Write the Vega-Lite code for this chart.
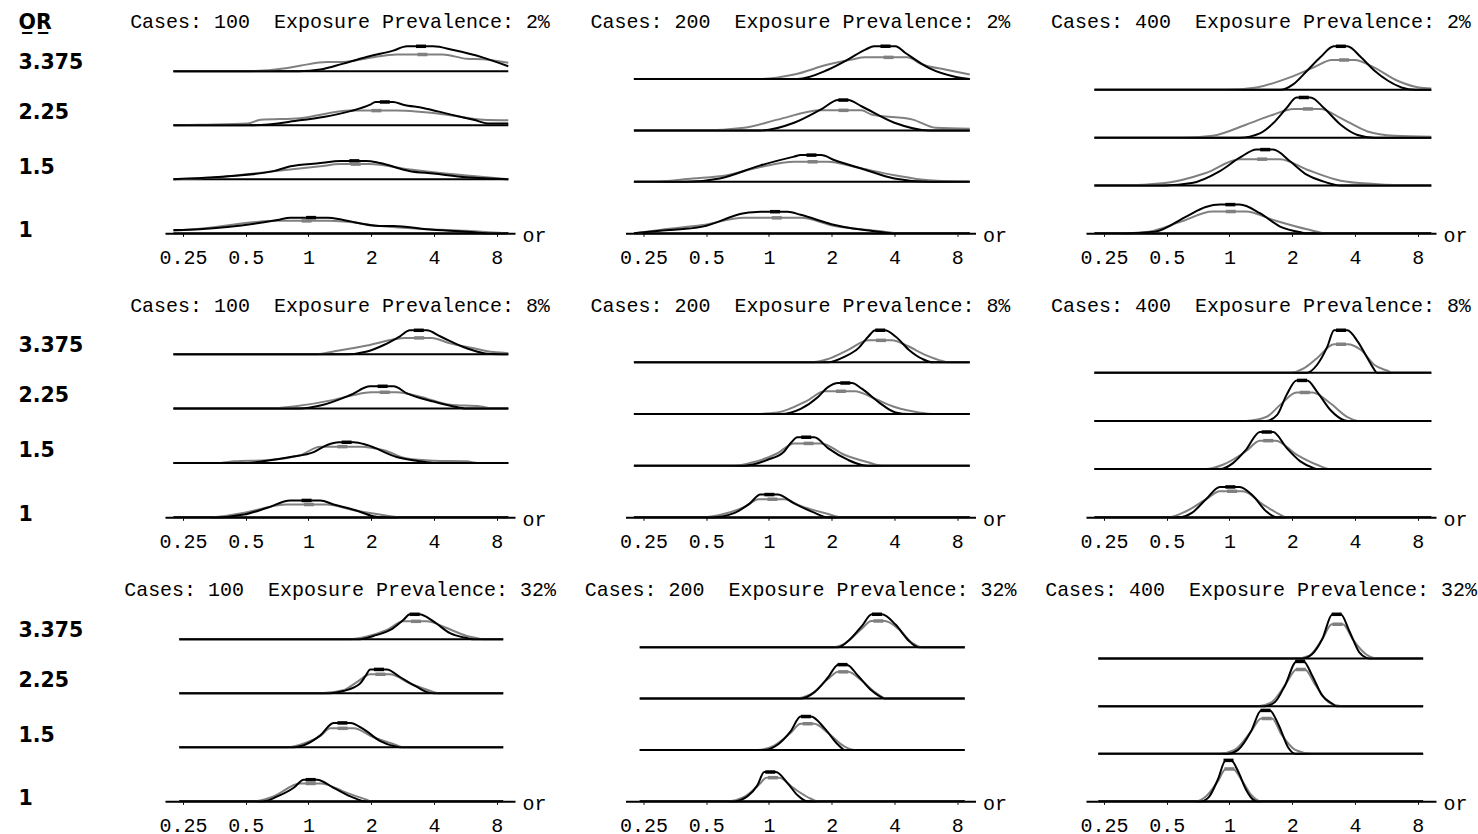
{
"$schema": "https://vega.github.io/schema/vega-lite/v6.json",
"background": "white",
"padding": {"left": 18, "top": 12.3, "right": 0, "bottom": 0},
"data": {"values": [
{"p":1,"k":3,"s":"b","x":0.225,"d":0},{"p":1,"k":3,"s":"b","x":0.9,"d":0},{"p":1,"k":3,"s":"b","x":1.14,"d":0.03},{"p":1,"k":3,"s":"b","x":1.47,"d":0.14},{"p":1,"k":3,"s":"b","x":1.98,"d":0.28},{"p":1,"k":3,"s":"b","x":2.55,"d":0.38},{"p":1,"k":3,"s":"b","x":2.97,"d":0.46},{"p":1,"k":3,"s":"b","x":3.97,"d":0.46},{"p":1,"k":3,"s":"b","x":4.96,"d":0.39},{"p":1,"k":3,"s":"b","x":6.9,"d":0.25},{"p":1,"k":3,"s":"b","x":9.1,"d":0.09},
{"p":1,"k":3,"s":"g","x":0.225,"d":0},{"p":1,"k":3,"s":"g","x":0.49,"d":0},{"p":1,"k":3,"s":"g","x":0.76,"d":0.05},{"p":1,"k":3,"s":"g","x":0.91,"d":0.1},{"p":1,"k":3,"s":"g","x":1.23,"d":0.17},{"p":1,"k":3,"s":"g","x":1.47,"d":0.17},{"p":1,"k":3,"s":"g","x":1.98,"d":0.25},{"p":1,"k":3,"s":"g","x":2.65,"d":0.31},{"p":1,"k":3,"s":"g","x":4.4,"d":0.31},{"p":1,"k":3,"s":"g","x":5.75,"d":0.23},{"p":1,"k":3,"s":"g","x":6.9,"d":0.22},{"p":1,"k":3,"s":"g","x":9.1,"d":0.155},
{"p":1,"k":2,"s":"b","x":0.225,"d":0},{"p":1,"k":2,"s":"b","x":0.55,"d":0},{"p":1,"k":2,"s":"b","x":0.91,"d":0.09},{"p":1,"k":2,"s":"b","x":1.18,"d":0.15},{"p":1,"k":2,"s":"b","x":1.59,"d":0.26},{"p":1,"k":2,"s":"b","x":1.98,"d":0.38},{"p":1,"k":2,"s":"b","x":2.1,"d":0.43},{"p":1,"k":2,"s":"b","x":2.55,"d":0.43},{"p":1,"k":2,"s":"b","x":2.85,"d":0.38},{"p":1,"k":2,"s":"b","x":3.55,"d":0.32},{"p":1,"k":2,"s":"b","x":4.78,"d":0.2},{"p":1,"k":2,"s":"b","x":6.2,"d":0.1},{"p":1,"k":2,"s":"b","x":7.4,"d":0.03},{"p":1,"k":2,"s":"b","x":9.1,"d":0.03},
{"p":1,"k":2,"s":"g","x":0.225,"d":0},{"p":1,"k":2,"s":"g","x":0.3,"d":0.01},{"p":1,"k":2,"s":"g","x":0.51,"d":0.03},{"p":1,"k":2,"s":"g","x":0.59,"d":0.1},{"p":1,"k":2,"s":"g","x":0.91,"d":0.13},{"p":1,"k":2,"s":"g","x":1.59,"d":0.27},{"p":1,"k":2,"s":"g","x":2.65,"d":0.27},{"p":1,"k":2,"s":"g","x":4.78,"d":0.185},{"p":1,"k":2,"s":"g","x":6.9,"d":0.1},{"p":1,"k":2,"s":"g","x":9.1,"d":0.09},
{"p":1,"k":1,"s":"b","x":0.225,"d":0},{"p":1,"k":1,"s":"b","x":0.41,"d":0.055},{"p":1,"k":1,"s":"b","x":0.68,"d":0.15},{"p":1,"k":1,"s":"b","x":0.82,"d":0.24},{"p":1,"k":1,"s":"b","x":1.14,"d":0.3},{"p":1,"k":1,"s":"b","x":1.42,"d":0.34},{"p":1,"k":1,"s":"b","x":1.9,"d":0.34},{"p":1,"k":1,"s":"b","x":2.2,"d":0.3},{"p":1,"k":1,"s":"b","x":3.08,"d":0.15},{"p":1,"k":1,"s":"b","x":3.98,"d":0.105},{"p":1,"k":1,"s":"b","x":5.75,"d":0.037},{"p":1,"k":1,"s":"b","x":9.1,"d":0},
{"p":1,"k":1,"s":"g","x":0.225,"d":0},{"p":1,"k":1,"s":"g","x":0.33,"d":0.03},{"p":1,"k":1,"s":"g","x":0.45,"d":0.07},{"p":1,"k":1,"s":"g","x":0.68,"d":0.15},{"p":1,"k":1,"s":"g","x":1.14,"d":0.24},{"p":1,"k":1,"s":"g","x":1.42,"d":0.28},{"p":1,"k":1,"s":"g","x":1.95,"d":0.28},{"p":1,"k":1,"s":"g","x":3.08,"d":0.18},{"p":1,"k":1,"s":"g","x":3.98,"d":0.13},{"p":1,"k":1,"s":"g","x":5.75,"d":0.07},{"p":1,"k":1,"s":"g","x":7.6,"d":0.03},{"p":1,"k":1,"s":"g","x":9.1,"d":0},
{"p":1,"k":0,"s":"b","x":0.225,"d":0.06},{"p":1,"k":0,"s":"b","x":0.3,"d":0.075},{"p":1,"k":0,"s":"b","x":0.71,"d":0.245},{"p":1,"k":0,"s":"b","x":0.82,"d":0.29},{"p":1,"k":0,"s":"b","x":1.24,"d":0.29},{"p":1,"k":0,"s":"b","x":1.47,"d":0.245},{"p":1,"k":0,"s":"b","x":2.2,"d":0.135},{"p":1,"k":0,"s":"b","x":2.56,"d":0.135},{"p":1,"k":0,"s":"b","x":3.7,"d":0.075},{"p":1,"k":0,"s":"b","x":5.75,"d":0.03},{"p":1,"k":0,"s":"b","x":7.3,"d":0},{"p":1,"k":0,"s":"b","x":9.1,"d":0},
{"p":1,"k":0,"s":"g","x":0.225,"d":0.045},{"p":1,"k":0,"s":"g","x":0.3,"d":0.085},{"p":1,"k":0,"s":"g","x":0.71,"d":0.23},{"p":1,"k":0,"s":"g","x":1.25,"d":0.23},{"p":1,"k":0,"s":"g","x":1.47,"d":0.22},{"p":1,"k":0,"s":"g","x":2.2,"d":0.135},{"p":1,"k":0,"s":"g","x":3.7,"d":0.075},{"p":1,"k":0,"s":"g","x":5.75,"d":0.045},{"p":1,"k":0,"s":"g","x":7.3,"d":0.02},{"p":1,"k":0,"s":"g","x":9.1,"d":0},

{"p":2,"k":3,"s":"b","x":0.225,"d":0},{"p":2,"k":3,"s":"b","x":1.37,"d":0},{"p":2,"k":3,"s":"b","x":1.92,"d":0.18},{"p":2,"k":3,"s":"b","x":2.4,"d":0.38},{"p":2,"k":3,"s":"b","x":2.9,"d":0.57},{"p":2,"k":3,"s":"b","x":3.2,"d":0.635},{"p":2,"k":3,"s":"b","x":4.05,"d":0.635},{"p":2,"k":3,"s":"b","x":4.5,"d":0.51},{"p":2,"k":3,"s":"b","x":5.87,"d":0.21},{"p":2,"k":3,"s":"b","x":7.9,"d":0.04},{"p":2,"k":3,"s":"b","x":9.2,"d":0},
{"p":2,"k":3,"s":"g","x":0.225,"d":0},{"p":2,"k":3,"s":"g","x":0.91,"d":0},{"p":2,"k":3,"s":"g","x":1.32,"d":0.085},{"p":2,"k":3,"s":"g","x":1.92,"d":0.28},{"p":2,"k":3,"s":"g","x":2.5,"d":0.38},{"p":2,"k":3,"s":"g","x":2.9,"d":0.42},{"p":2,"k":3,"s":"g","x":4.6,"d":0.42},{"p":2,"k":3,"s":"g","x":5.45,"d":0.28},{"p":2,"k":3,"s":"g","x":7.1,"d":0.18},{"p":2,"k":3,"s":"g","x":9.2,"d":0.085},
{"p":2,"k":2,"s":"b","x":0.225,"d":0},{"p":2,"k":2,"s":"b","x":0.91,"d":0},{"p":2,"k":2,"s":"b","x":1.32,"d":0.15},{"p":2,"k":2,"s":"b","x":1.78,"d":0.41},{"p":2,"k":2,"s":"b","x":2.15,"d":0.59},{"p":2,"k":2,"s":"b","x":2.4,"d":0.59},{"p":2,"k":2,"s":"b","x":2.78,"d":0.47},{"p":2,"k":2,"s":"b","x":4.0,"d":0.15},{"p":2,"k":2,"s":"b","x":5.87,"d":0},{"p":2,"k":2,"s":"b","x":9.2,"d":0},
{"p":2,"k":2,"s":"g","x":0.225,"d":0},{"p":2,"k":2,"s":"g","x":0.48,"d":0},{"p":2,"k":2,"s":"g","x":0.76,"d":0.05},{"p":2,"k":2,"s":"g","x":1.1,"d":0.21},{"p":2,"k":2,"s":"g","x":1.78,"d":0.39},{"p":2,"k":2,"s":"g","x":2.78,"d":0.39},{"p":2,"k":2,"s":"g","x":3.1,"d":0.31},{"p":2,"k":2,"s":"g","x":4.9,"d":0.21},{"p":2,"k":2,"s":"g","x":6.3,"d":0.05},{"p":2,"k":2,"s":"g","x":9.2,"d":0.03},
{"p":2,"k":1,"s":"b","x":0.225,"d":0},{"p":2,"k":1,"s":"b","x":0.4,"d":0},{"p":2,"k":1,"s":"b","x":0.58,"d":0.065},{"p":2,"k":1,"s":"b","x":0.91,"d":0.32},{"p":2,"k":1,"s":"b","x":1.32,"d":0.49},{"p":2,"k":1,"s":"b","x":1.42,"d":0.52},{"p":2,"k":1,"s":"b","x":1.78,"d":0.52},{"p":2,"k":1,"s":"b","x":2.07,"d":0.42},{"p":2,"k":1,"s":"b","x":2.78,"d":0.26},{"p":2,"k":1,"s":"b","x":4.0,"d":0.065},{"p":2,"k":1,"s":"b","x":5.87,"d":0},{"p":2,"k":1,"s":"b","x":9.2,"d":0},
{"p":2,"k":1,"s":"g","x":0.225,"d":0},{"p":2,"k":1,"s":"g","x":0.27,"d":0},{"p":2,"k":1,"s":"g","x":0.43,"d":0.065},{"p":2,"k":1,"s":"g","x":0.63,"d":0.13},{"p":2,"k":1,"s":"g","x":0.91,"d":0.29},{"p":2,"k":1,"s":"g","x":1.32,"d":0.39},{"p":2,"k":1,"s":"g","x":1.92,"d":0.39},{"p":2,"k":1,"s":"g","x":2.58,"d":0.29},{"p":2,"k":1,"s":"g","x":4.0,"d":0.13},{"p":2,"k":1,"s":"g","x":5.87,"d":0.03},{"p":2,"k":1,"s":"g","x":9.2,"d":0},
{"p":2,"k":0,"s":"b","x":0.225,"d":0},{"p":2,"k":0,"s":"b","x":0.3,"d":0.05},{"p":2,"k":0,"s":"b","x":0.48,"d":0.13},{"p":2,"k":0,"s":"b","x":0.76,"d":0.39},{"p":2,"k":0,"s":"b","x":0.91,"d":0.42},{"p":2,"k":0,"s":"b","x":1.23,"d":0.42},{"p":2,"k":0,"s":"b","x":1.42,"d":0.36},{"p":2,"k":0,"s":"b","x":2.07,"d":0.16},{"p":2,"k":0,"s":"b","x":3.35,"d":0.03},{"p":2,"k":0,"s":"b","x":4.0,"d":0},{"p":2,"k":0,"s":"b","x":9.2,"d":0},
{"p":2,"k":0,"s":"g","x":0.225,"d":0},{"p":2,"k":0,"s":"g","x":0.3,"d":0.065},{"p":2,"k":0,"s":"g","x":0.48,"d":0.16},{"p":2,"k":0,"s":"g","x":0.76,"d":0.3},{"p":2,"k":0,"s":"g","x":1.42,"d":0.3},{"p":2,"k":0,"s":"g","x":2.07,"d":0.14},{"p":2,"k":0,"s":"g","x":3.35,"d":0.045},{"p":2,"k":0,"s":"g","x":4.3,"d":0},{"p":2,"k":0,"s":"g","x":9.2,"d":0},

{"p":3,"k":3,"s":"b","x":0.225,"d":0},{"p":3,"k":3,"s":"b","x":1.75,"d":0},{"p":3,"k":3,"s":"b","x":2.03,"d":0.12},{"p":3,"k":3,"s":"b","x":2.36,"d":0.4},{"p":3,"k":3,"s":"b","x":2.73,"d":0.68},{"p":3,"k":3,"s":"b","x":3.17,"d":0.91},{"p":3,"k":3,"s":"b","x":3.68,"d":0.91},{"p":3,"k":3,"s":"b","x":4.28,"d":0.68},{"p":3,"k":3,"s":"b","x":4.97,"d":0.4},{"p":3,"k":3,"s":"b","x":5.77,"d":0.19},{"p":3,"k":3,"s":"b","x":6.69,"d":0.05},{"p":3,"k":3,"s":"b","x":7.8,"d":0},{"p":3,"k":3,"s":"b","x":9.3,"d":0},
{"p":3,"k":3,"s":"g","x":0.225,"d":0},{"p":3,"k":3,"s":"g","x":0.96,"d":0},{"p":3,"k":3,"s":"g","x":1.35,"d":0.05},{"p":3,"k":3,"s":"g","x":1.95,"d":0.26},{"p":3,"k":3,"s":"g","x":2.54,"d":0.47},{"p":3,"k":3,"s":"g","x":3.1,"d":0.625},{"p":3,"k":3,"s":"g","x":4.0,"d":0.625},{"p":3,"k":3,"s":"g","x":4.78,"d":0.5},{"p":3,"k":3,"s":"g","x":6.4,"d":0.19},{"p":3,"k":3,"s":"g","x":8.1,"d":0.05},{"p":3,"k":3,"s":"g","x":9.3,"d":0.03},
{"p":3,"k":2,"s":"b","x":0.225,"d":0},{"p":3,"k":2,"s":"b","x":1.12,"d":0},{"p":3,"k":2,"s":"b","x":1.4,"d":0.09},{"p":3,"k":2,"s":"b","x":1.62,"d":0.3},{"p":3,"k":2,"s":"b","x":1.88,"d":0.62},{"p":3,"k":2,"s":"b","x":2.1,"d":0.84},{"p":3,"k":2,"s":"b","x":2.45,"d":0.84},{"p":3,"k":2,"s":"b","x":2.84,"d":0.62},{"p":3,"k":2,"s":"b","x":3.42,"d":0.27},{"p":3,"k":2,"s":"b","x":4.12,"d":0.056},{"p":3,"k":2,"s":"b","x":4.97,"d":0},{"p":3,"k":2,"s":"b","x":9.3,"d":0},
{"p":3,"k":2,"s":"g","x":0.225,"d":0},{"p":3,"k":2,"s":"g","x":0.59,"d":0},{"p":3,"k":2,"s":"g","x":0.83,"d":0.04},{"p":3,"k":2,"s":"g","x":1.2,"d":0.27},{"p":3,"k":2,"s":"g","x":1.62,"d":0.48},{"p":3,"k":2,"s":"g","x":2.03,"d":0.6},{"p":3,"k":2,"s":"g","x":2.73,"d":0.6},{"p":3,"k":2,"s":"g","x":3.42,"d":0.41},{"p":3,"k":2,"s":"g","x":4.6,"d":0.13},{"p":3,"k":2,"s":"g","x":6.2,"d":0.04},{"p":3,"k":2,"s":"g","x":9.3,"d":0.02},
{"p":3,"k":1,"s":"b","x":0.225,"d":0},{"p":3,"k":1,"s":"b","x":0.49,"d":0},{"p":3,"k":1,"s":"b","x":0.66,"d":0.05},{"p":3,"k":1,"s":"b","x":0.9,"d":0.3},{"p":3,"k":1,"s":"b","x":1.12,"d":0.58},{"p":3,"k":1,"s":"b","x":1.35,"d":0.75},{"p":3,"k":1,"s":"b","x":1.62,"d":0.75},{"p":3,"k":1,"s":"b","x":1.96,"d":0.5},{"p":3,"k":1,"s":"b","x":2.36,"d":0.22},{"p":3,"k":1,"s":"b","x":2.84,"d":0.08},{"p":3,"k":1,"s":"b","x":3.42,"d":0},{"p":3,"k":1,"s":"b","x":9.3,"d":0},
{"p":3,"k":1,"s":"g","x":0.225,"d":0},{"p":3,"k":1,"s":"g","x":0.31,"d":0},{"p":3,"k":1,"s":"g","x":0.49,"d":0.05},{"p":3,"k":1,"s":"g","x":0.77,"d":0.26},{"p":3,"k":1,"s":"g","x":1.12,"d":0.55},{"p":3,"k":1,"s":"g","x":1.75,"d":0.55},{"p":3,"k":1,"s":"g","x":2.36,"d":0.33},{"p":3,"k":1,"s":"g","x":3.42,"d":0.1},{"p":3,"k":1,"s":"g","x":4.97,"d":0.03},{"p":3,"k":1,"s":"g","x":7.5,"d":0},{"p":3,"k":1,"s":"g","x":9.3,"d":0},
{"p":3,"k":0,"s":"b","x":0.225,"d":0},{"p":3,"k":0,"s":"b","x":0.31,"d":0},{"p":3,"k":0,"s":"b","x":0.44,"d":0.035},{"p":3,"k":0,"s":"b","x":0.62,"d":0.35},{"p":3,"k":0,"s":"b","x":0.77,"d":0.55},{"p":3,"k":0,"s":"b","x":0.9,"d":0.6},{"p":3,"k":0,"s":"b","x":1.12,"d":0.6},{"p":3,"k":0,"s":"b","x":1.4,"d":0.42},{"p":3,"k":0,"s":"b","x":1.75,"d":0.14},{"p":3,"k":0,"s":"b","x":2.2,"d":0.02},{"p":3,"k":0,"s":"b","x":2.36,"d":0},{"p":3,"k":0,"s":"b","x":9.3,"d":0},
{"p":3,"k":0,"s":"g","x":0.225,"d":0},{"p":3,"k":0,"s":"g","x":0.29,"d":0},{"p":3,"k":0,"s":"g","x":0.41,"d":0.035},{"p":3,"k":0,"s":"g","x":0.59,"d":0.25},{"p":3,"k":0,"s":"g","x":0.83,"d":0.455},{"p":3,"k":0,"s":"g","x":1.2,"d":0.455},{"p":3,"k":0,"s":"g","x":1.62,"d":0.28},{"p":3,"k":0,"s":"g","x":2.36,"d":0.085},{"p":3,"k":0,"s":"g","x":2.94,"d":0},{"p":3,"k":0,"s":"g","x":9.3,"d":0},

{"p":4,"k":3,"s":"b","x":0.225,"d":0},{"p":4,"k":3,"s":"b","x":1.53,"d":0},{"p":4,"k":3,"s":"b","x":1.91,"d":0.05},{"p":4,"k":3,"s":"b","x":2.3,"d":0.17},{"p":4,"k":3,"s":"b","x":2.75,"d":0.33},{"p":4,"k":3,"s":"b","x":3.07,"d":0.44},{"p":4,"k":3,"s":"b","x":3.7,"d":0.44},{"p":4,"k":3,"s":"b","x":4.28,"d":0.33},{"p":4,"k":3,"s":"b","x":5.75,"d":0.11},{"p":4,"k":3,"s":"b","x":7.2,"d":0.01},{"p":4,"k":3,"s":"b","x":9.1,"d":0},
{"p":4,"k":3,"s":"g","x":0.225,"d":0},{"p":4,"k":3,"s":"g","x":1.1,"d":0},{"p":4,"k":3,"s":"g","x":1.32,"d":0.05},{"p":4,"k":3,"s":"g","x":1.91,"d":0.16},{"p":4,"k":3,"s":"g","x":2.55,"d":0.27},{"p":4,"k":3,"s":"g","x":2.9,"d":0.3},{"p":4,"k":3,"s":"g","x":3.9,"d":0.3},{"p":4,"k":3,"s":"g","x":4.78,"d":0.2},{"p":4,"k":3,"s":"g","x":6.2,"d":0.11},{"p":4,"k":3,"s":"g","x":7.7,"d":0.04},{"p":4,"k":3,"s":"g","x":9.1,"d":0.02},
{"p":4,"k":2,"s":"b","x":0.225,"d":0},{"p":4,"k":2,"s":"b","x":0.91,"d":0},{"p":4,"k":2,"s":"b","x":1.14,"d":0.055},{"p":4,"k":2,"s":"b","x":1.59,"d":0.25},{"p":4,"k":2,"s":"b","x":1.98,"d":0.41},{"p":4,"k":2,"s":"b","x":2.56,"d":0.41},{"p":4,"k":2,"s":"b","x":2.97,"d":0.28},{"p":4,"k":2,"s":"b","x":3.98,"d":0.13},{"p":4,"k":2,"s":"b","x":4.95,"d":0.04},{"p":4,"k":2,"s":"b","x":5.75,"d":0},{"p":4,"k":2,"s":"b","x":9.1,"d":0},
{"p":4,"k":2,"s":"g","x":0.225,"d":0},{"p":4,"k":2,"s":"g","x":0.63,"d":0},{"p":4,"k":2,"s":"g","x":0.85,"d":0.04},{"p":4,"k":2,"s":"g","x":1.32,"d":0.16},{"p":4,"k":2,"s":"g","x":1.65,"d":0.25},{"p":4,"k":2,"s":"g","x":2.0,"d":0.3},{"p":4,"k":2,"s":"g","x":2.65,"d":0.3},{"p":4,"k":2,"s":"g","x":3.43,"d":0.22},{"p":4,"k":2,"s":"g","x":4.78,"d":0.07},{"p":4,"k":2,"s":"g","x":6.7,"d":0.04},{"p":4,"k":2,"s":"g","x":7.7,"d":0},{"p":4,"k":2,"s":"g","x":9.1,"d":0},
{"p":4,"k":1,"s":"b","x":0.225,"d":0},{"p":4,"k":1,"s":"b","x":0.51,"d":0},{"p":4,"k":1,"s":"b","x":0.63,"d":0.04},{"p":4,"k":1,"s":"b","x":0.82,"d":0.11},{"p":4,"k":1,"s":"b","x":1.06,"d":0.2},{"p":4,"k":1,"s":"b","x":1.23,"d":0.33},{"p":4,"k":1,"s":"b","x":1.4,"d":0.38},{"p":4,"k":1,"s":"b","x":1.65,"d":0.38},{"p":4,"k":1,"s":"b","x":1.91,"d":0.33},{"p":4,"k":1,"s":"b","x":2.65,"d":0.11},{"p":4,"k":1,"s":"b","x":3.43,"d":0.03},{"p":4,"k":1,"s":"b","x":3.98,"d":0},{"p":4,"k":1,"s":"b","x":9.1,"d":0},
{"p":4,"k":1,"s":"g","x":0.225,"d":0},{"p":4,"k":1,"s":"g","x":0.38,"d":0},{"p":4,"k":1,"s":"g","x":0.44,"d":0.03},{"p":4,"k":1,"s":"g","x":0.63,"d":0.05},{"p":4,"k":1,"s":"g","x":0.91,"d":0.14},{"p":4,"k":1,"s":"g","x":1.14,"d":0.3},{"p":4,"k":1,"s":"g","x":1.77,"d":0.3},{"p":4,"k":1,"s":"g","x":2.3,"d":0.235},{"p":4,"k":1,"s":"g","x":2.97,"d":0.08},{"p":4,"k":1,"s":"g","x":3.98,"d":0.04},{"p":4,"k":1,"s":"g","x":5.75,"d":0.03},{"p":4,"k":1,"s":"g","x":6.5,"d":0},{"p":4,"k":1,"s":"g","x":9.1,"d":0},
{"p":4,"k":0,"s":"b","x":0.225,"d":0},{"p":4,"k":0,"s":"b","x":0.36,"d":0},{"p":4,"k":0,"s":"b","x":0.49,"d":0.05},{"p":4,"k":0,"s":"b","x":0.63,"d":0.17},{"p":4,"k":0,"s":"b","x":0.82,"d":0.31},{"p":4,"k":0,"s":"b","x":1.14,"d":0.31},{"p":4,"k":0,"s":"b","x":1.32,"d":0.235},{"p":4,"k":0,"s":"b","x":1.65,"d":0.14},{"p":4,"k":0,"s":"b","x":2.05,"d":0.02},{"p":4,"k":0,"s":"b","x":2.2,"d":0},{"p":4,"k":0,"s":"b","x":9.1,"d":0},
{"p":4,"k":0,"s":"g","x":0.225,"d":0},{"p":4,"k":0,"s":"g","x":0.33,"d":0},{"p":4,"k":0,"s":"g","x":0.47,"d":0.07},{"p":4,"k":0,"s":"g","x":0.79,"d":0.235},{"p":4,"k":0,"s":"g","x":1.22,"d":0.235},{"p":4,"k":0,"s":"g","x":1.65,"d":0.13},{"p":4,"k":0,"s":"g","x":2.2,"d":0.05},{"p":4,"k":0,"s":"g","x":2.75,"d":0},{"p":4,"k":0,"s":"g","x":9.1,"d":0},

{"p":5,"k":3,"s":"b","x":0.225,"d":0},{"p":5,"k":3,"s":"b","x":1.92,"d":0},{"p":5,"k":3,"s":"b","x":2.31,"d":0.11},{"p":5,"k":3,"s":"b","x":2.68,"d":0.27},{"p":5,"k":3,"s":"b","x":3.0,"d":0.5},{"p":5,"k":3,"s":"b","x":3.24,"d":0.62},{"p":5,"k":3,"s":"b","x":3.6,"d":0.62},{"p":5,"k":3,"s":"b","x":4.05,"d":0.5},{"p":5,"k":3,"s":"b","x":4.7,"d":0.24},{"p":5,"k":3,"s":"b","x":5.45,"d":0.065},{"p":5,"k":3,"s":"b","x":6.1,"d":0},{"p":5,"k":3,"s":"b","x":9.2,"d":0},
{"p":5,"k":3,"s":"g","x":0.225,"d":0},{"p":5,"k":3,"s":"g","x":1.59,"d":0},{"p":5,"k":3,"s":"g","x":1.92,"d":0.065},{"p":5,"k":3,"s":"g","x":2.4,"d":0.24},{"p":5,"k":3,"s":"g","x":3.0,"d":0.425},{"p":5,"k":3,"s":"g","x":3.9,"d":0.425},{"p":5,"k":3,"s":"g","x":4.5,"d":0.34},{"p":5,"k":3,"s":"g","x":5.66,"d":0.14},{"p":5,"k":3,"s":"g","x":6.8,"d":0.026},{"p":5,"k":3,"s":"g","x":7.3,"d":0},{"p":5,"k":3,"s":"g","x":9.2,"d":0},
{"p":5,"k":2,"s":"b","x":0.225,"d":0},{"p":5,"k":2,"s":"b","x":1.14,"d":0},{"p":5,"k":2,"s":"b","x":1.42,"d":0.1},{"p":5,"k":2,"s":"b","x":1.72,"d":0.33},{"p":5,"k":2,"s":"b","x":1.92,"d":0.52},{"p":5,"k":2,"s":"b","x":2.15,"d":0.6},{"p":5,"k":2,"s":"b","x":2.5,"d":0.6},{"p":5,"k":2,"s":"b","x":2.79,"d":0.49},{"p":5,"k":2,"s":"b","x":3.36,"d":0.23},{"p":5,"k":2,"s":"b","x":4.05,"d":0.03},{"p":5,"k":2,"s":"b","x":4.7,"d":0},{"p":5,"k":2,"s":"b","x":9.2,"d":0},
{"p":5,"k":2,"s":"g","x":0.225,"d":0},{"p":5,"k":2,"s":"g","x":0.85,"d":0},{"p":5,"k":2,"s":"g","x":1.1,"d":0.03},{"p":5,"k":2,"s":"g","x":1.53,"d":0.26},{"p":5,"k":2,"s":"g","x":1.85,"d":0.44},{"p":5,"k":2,"s":"g","x":2.58,"d":0.44},{"p":5,"k":2,"s":"g","x":3.24,"d":0.29},{"p":5,"k":2,"s":"g","x":4.05,"d":0.13},{"p":5,"k":2,"s":"g","x":5.25,"d":0.03},{"p":5,"k":2,"s":"g","x":6.1,"d":0},{"p":5,"k":2,"s":"g","x":9.2,"d":0},
{"p":5,"k":1,"s":"b","x":0.225,"d":0},{"p":5,"k":1,"s":"b","x":0.76,"d":0},{"p":5,"k":1,"s":"b","x":0.98,"d":0.11},{"p":5,"k":1,"s":"b","x":1.18,"d":0.27},{"p":5,"k":1,"s":"b","x":1.28,"d":0.45},{"p":5,"k":1,"s":"b","x":1.37,"d":0.55},{"p":5,"k":1,"s":"b","x":1.65,"d":0.55},{"p":5,"k":1,"s":"b","x":1.92,"d":0.34},{"p":5,"k":1,"s":"b","x":2.4,"d":0.11},{"p":5,"k":1,"s":"b","x":2.79,"d":0.013},{"p":5,"k":1,"s":"b","x":3.0,"d":0},{"p":5,"k":1,"s":"b","x":9.2,"d":0},
{"p":5,"k":1,"s":"g","x":0.225,"d":0},{"p":5,"k":1,"s":"g","x":0.68,"d":0},{"p":5,"k":1,"s":"g","x":0.81,"d":0.05},{"p":5,"k":1,"s":"g","x":1.1,"d":0.24},{"p":5,"k":1,"s":"g","x":1.32,"d":0.43},{"p":5,"k":1,"s":"g","x":1.78,"d":0.43},{"p":5,"k":1,"s":"g","x":2.3,"d":0.21},{"p":5,"k":1,"s":"g","x":2.99,"d":0.065},{"p":5,"k":1,"s":"g","x":3.48,"d":0},{"p":5,"k":1,"s":"g","x":9.2,"d":0},
{"p":5,"k":0,"s":"b","x":0.225,"d":0},{"p":5,"k":0,"s":"b","x":0.54,"d":0},{"p":5,"k":0,"s":"b","x":0.68,"d":0.08},{"p":5,"k":0,"s":"b","x":0.81,"d":0.27},{"p":5,"k":0,"s":"b","x":0.91,"d":0.44},{"p":5,"k":0,"s":"b","x":1.1,"d":0.44},{"p":5,"k":0,"s":"b","x":1.32,"d":0.27},{"p":5,"k":0,"s":"b","x":1.65,"d":0.09},{"p":5,"k":0,"s":"b","x":1.92,"d":0},{"p":5,"k":0,"s":"b","x":9.2,"d":0},
{"p":5,"k":0,"s":"g","x":0.225,"d":0},{"p":5,"k":0,"s":"g","x":0.47,"d":0},{"p":5,"k":0,"s":"g","x":0.58,"d":0.045},{"p":5,"k":0,"s":"g","x":0.78,"d":0.22},{"p":5,"k":0,"s":"g","x":0.89,"d":0.35},{"p":5,"k":0,"s":"g","x":1.19,"d":0.35},{"p":5,"k":0,"s":"g","x":1.42,"d":0.22},{"p":5,"k":0,"s":"g","x":1.92,"d":0.065},{"p":5,"k":0,"s":"g","x":2.23,"d":0},{"p":5,"k":0,"s":"g","x":9.2,"d":0},

{"p":6,"k":3,"s":"b","x":0.225,"d":0},{"p":6,"k":3,"s":"b","x":2.36,"d":0},{"p":6,"k":3,"s":"b","x":2.63,"d":0.16},{"p":6,"k":3,"s":"b","x":2.95,"d":0.54},{"p":6,"k":3,"s":"b","x":3.18,"d":0.88},{"p":6,"k":3,"s":"b","x":3.68,"d":0.88},{"p":6,"k":3,"s":"b","x":4.12,"d":0.65},{"p":6,"k":3,"s":"b","x":4.6,"d":0.3},{"p":6,"k":3,"s":"b","x":4.97,"d":0.056},{"p":6,"k":3,"s":"b","x":5.1,"d":0},{"p":6,"k":3,"s":"b","x":9.3,"d":0},
{"p":6,"k":3,"s":"g","x":0.225,"d":0},{"p":6,"k":3,"s":"g","x":1.96,"d":0},{"p":6,"k":3,"s":"g","x":2.27,"d":0.09},{"p":6,"k":3,"s":"g","x":2.63,"d":0.3},{"p":6,"k":3,"s":"g","x":3.18,"d":0.59},{"p":6,"k":3,"s":"g","x":3.68,"d":0.59},{"p":6,"k":3,"s":"g","x":4.28,"d":0.47},{"p":6,"k":3,"s":"g","x":4.97,"d":0.16},{"p":6,"k":3,"s":"g","x":5.77,"d":0.035},{"p":6,"k":3,"s":"g","x":6.0,"d":0},{"p":6,"k":3,"s":"g","x":9.3,"d":0},
{"p":6,"k":2,"s":"b","x":0.225,"d":0},{"p":6,"k":2,"s":"b","x":1.5,"d":0},{"p":6,"k":2,"s":"b","x":1.69,"d":0.12},{"p":6,"k":2,"s":"b","x":1.88,"d":0.54},{"p":6,"k":2,"s":"b","x":2.1,"d":0.84},{"p":6,"k":2,"s":"b","x":2.36,"d":0.84},{"p":6,"k":2,"s":"b","x":2.63,"d":0.61},{"p":6,"k":2,"s":"b","x":3.06,"d":0.22},{"p":6,"k":2,"s":"b","x":3.55,"d":0.014},{"p":6,"k":2,"s":"b","x":3.7,"d":0},{"p":6,"k":2,"s":"b","x":9.3,"d":0},
{"p":6,"k":2,"s":"g","x":0.225,"d":0},{"p":6,"k":2,"s":"g","x":1.2,"d":0},{"p":6,"k":2,"s":"g","x":1.5,"d":0.08},{"p":6,"k":2,"s":"g","x":1.75,"d":0.33},{"p":6,"k":2,"s":"g","x":2.1,"d":0.59},{"p":6,"k":2,"s":"g","x":2.5,"d":0.59},{"p":6,"k":2,"s":"g","x":3.06,"d":0.36},{"p":6,"k":2,"s":"g","x":3.68,"d":0.08},{"p":6,"k":2,"s":"g","x":4.12,"d":0},{"p":6,"k":2,"s":"g","x":9.3,"d":0},
{"p":6,"k":1,"s":"b","x":0.225,"d":0},{"p":6,"k":1,"s":"b","x":0.9,"d":0},{"p":6,"k":1,"s":"b","x":1.04,"d":0.125},{"p":6,"k":1,"s":"b","x":1.2,"d":0.4},{"p":6,"k":1,"s":"b","x":1.4,"d":0.77},{"p":6,"k":1,"s":"b","x":1.62,"d":0.77},{"p":6,"k":1,"s":"b","x":1.88,"d":0.44},{"p":6,"k":1,"s":"b","x":2.19,"d":0.16},{"p":6,"k":1,"s":"b","x":2.54,"d":0.02},{"p":6,"k":1,"s":"b","x":2.63,"d":0},{"p":6,"k":1,"s":"b","x":9.3,"d":0},
{"p":6,"k":1,"s":"g","x":0.225,"d":0},{"p":6,"k":1,"s":"g","x":0.77,"d":0},{"p":6,"k":1,"s":"g","x":0.93,"d":0.09},{"p":6,"k":1,"s":"g","x":1.2,"d":0.37},{"p":6,"k":1,"s":"g","x":1.4,"d":0.59},{"p":6,"k":1,"s":"g","x":1.67,"d":0.59},{"p":6,"k":1,"s":"g","x":2.1,"d":0.3},{"p":6,"k":1,"s":"g","x":2.63,"d":0.09},{"p":6,"k":1,"s":"g","x":3.06,"d":0},{"p":6,"k":1,"s":"g","x":9.3,"d":0},
{"p":6,"k":0,"s":"b","x":0.225,"d":0},{"p":6,"k":0,"s":"b","x":0.57,"d":0},{"p":6,"k":0,"s":"b","x":0.66,"d":0.09},{"p":6,"k":0,"s":"b","x":0.77,"d":0.37},{"p":6,"k":0,"s":"b","x":0.9,"d":0.63},{"p":6,"k":0,"s":"b","x":1.12,"d":0.63},{"p":6,"k":0,"s":"b","x":1.3,"d":0.44},{"p":6,"k":0,"s":"b","x":1.5,"d":0.125},{"p":6,"k":0,"s":"b","x":1.69,"d":0},{"p":6,"k":0,"s":"b","x":9.3,"d":0},
{"p":6,"k":0,"s":"g","x":0.225,"d":0},{"p":6,"k":0,"s":"g","x":0.51,"d":0},{"p":6,"k":0,"s":"g","x":0.62,"d":0.125},{"p":6,"k":0,"s":"g","x":0.77,"d":0.37},{"p":6,"k":0,"s":"g","x":0.9,"d":0.54},{"p":6,"k":0,"s":"g","x":1.16,"d":0.54},{"p":6,"k":0,"s":"g","x":1.45,"d":0.265},{"p":6,"k":0,"s":"g","x":1.75,"d":0.056},{"p":6,"k":0,"s":"g","x":1.88,"d":0},{"p":6,"k":0,"s":"g","x":9.3,"d":0},

{"p":7,"k":3,"s":"b","x":0.24,"d":0},{"p":7,"k":3,"s":"b","x":1.77,"d":0},{"p":7,"k":3,"s":"b","x":2.05,"d":0.06},{"p":7,"k":3,"s":"b","x":2.47,"d":0.17},{"p":7,"k":3,"s":"b","x":2.86,"d":0.36},{"p":7,"k":3,"s":"b","x":3.07,"d":0.46},{"p":7,"k":3,"s":"b","x":3.4,"d":0.46},{"p":7,"k":3,"s":"b","x":3.98,"d":0.33},{"p":7,"k":3,"s":"b","x":4.78,"d":0.11},{"p":7,"k":3,"s":"b","x":5.75,"d":0.02},{"p":7,"k":3,"s":"b","x":6.1,"d":0},{"p":7,"k":3,"s":"b","x":8.6,"d":0},
{"p":7,"k":3,"s":"g","x":0.24,"d":0},{"p":7,"k":3,"s":"g","x":1.58,"d":0},{"p":7,"k":3,"s":"g","x":1.91,"d":0.05},{"p":7,"k":3,"s":"g","x":2.38,"d":0.17},{"p":7,"k":3,"s":"g","x":2.86,"d":0.33},{"p":7,"k":3,"s":"g","x":3.7,"d":0.33},{"p":7,"k":3,"s":"g","x":4.45,"d":0.23},{"p":7,"k":3,"s":"g","x":5.75,"d":0.06},{"p":7,"k":3,"s":"g","x":6.4,"d":0.02},{"p":7,"k":3,"s":"g","x":6.9,"d":0},{"p":7,"k":3,"s":"g","x":8.6,"d":0},
{"p":7,"k":2,"s":"b","x":0.24,"d":0},{"p":7,"k":2,"s":"b","x":1.27,"d":0},{"p":7,"k":2,"s":"b","x":1.47,"d":0.04},{"p":7,"k":2,"s":"b","x":1.77,"d":0.18},{"p":7,"k":2,"s":"b","x":1.88,"d":0.32},{"p":7,"k":2,"s":"b","x":1.98,"d":0.44},{"p":7,"k":2,"s":"b","x":2.38,"d":0.44},{"p":7,"k":2,"s":"b","x":2.75,"d":0.3},{"p":7,"k":2,"s":"b","x":3.3,"d":0.12},{"p":7,"k":2,"s":"b","x":3.83,"d":0.006},{"p":7,"k":2,"s":"b","x":4.0,"d":0},{"p":7,"k":2,"s":"b","x":8.6,"d":0},
{"p":7,"k":2,"s":"g","x":0.24,"d":0},{"p":7,"k":2,"s":"g","x":1.14,"d":0},{"p":7,"k":2,"s":"g","x":1.47,"d":0.055},{"p":7,"k":2,"s":"g","x":1.7,"d":0.2},{"p":7,"k":2,"s":"g","x":1.98,"d":0.35},{"p":7,"k":2,"s":"g","x":2.45,"d":0.35},{"p":7,"k":2,"s":"g","x":3.08,"d":0.18},{"p":7,"k":2,"s":"g","x":3.98,"d":0.025},{"p":7,"k":2,"s":"g","x":4.2,"d":0},{"p":7,"k":2,"s":"g","x":8.6,"d":0},
{"p":7,"k":1,"s":"b","x":0.24,"d":0},{"p":7,"k":1,"s":"b","x":0.85,"d":0},{"p":7,"k":1,"s":"b","x":0.98,"d":0.06},{"p":7,"k":1,"s":"b","x":1.14,"d":0.22},{"p":7,"k":1,"s":"b","x":1.32,"d":0.45},{"p":7,"k":1,"s":"b","x":1.59,"d":0.45},{"p":7,"k":1,"s":"b","x":1.83,"d":0.34},{"p":7,"k":1,"s":"b","x":2.2,"d":0.12},{"p":7,"k":1,"s":"b","x":2.65,"d":0.01},{"p":7,"k":1,"s":"b","x":2.75,"d":0},{"p":7,"k":1,"s":"b","x":8.6,"d":0},
{"p":7,"k":1,"s":"g","x":0.24,"d":0},{"p":7,"k":1,"s":"g","x":0.79,"d":0},{"p":7,"k":1,"s":"g","x":0.98,"d":0.09},{"p":7,"k":1,"s":"g","x":1.15,"d":0.22},{"p":7,"k":1,"s":"g","x":1.27,"d":0.35},{"p":7,"k":1,"s":"g","x":1.65,"d":0.35},{"p":7,"k":1,"s":"g","x":2.05,"d":0.185},{"p":7,"k":1,"s":"g","x":2.55,"d":0.06},{"p":7,"k":1,"s":"g","x":2.86,"d":0},{"p":7,"k":1,"s":"g","x":8.6,"d":0},
{"p":7,"k":0,"s":"b","x":0.24,"d":0},{"p":7,"k":0,"s":"b","x":0.61,"d":0},{"p":7,"k":0,"s":"b","x":0.71,"d":0.09},{"p":7,"k":0,"s":"b","x":0.85,"d":0.25},{"p":7,"k":0,"s":"b","x":0.95,"d":0.4},{"p":7,"k":0,"s":"b","x":1.1,"d":0.4},{"p":7,"k":0,"s":"b","x":1.32,"d":0.25},{"p":7,"k":0,"s":"b","x":1.59,"d":0.09},{"p":7,"k":0,"s":"b","x":1.77,"d":0.02},{"p":7,"k":0,"s":"b","x":1.85,"d":0},{"p":7,"k":0,"s":"b","x":8.6,"d":0},
{"p":7,"k":0,"s":"g","x":0.24,"d":0},{"p":7,"k":0,"s":"g","x":0.55,"d":0},{"p":7,"k":0,"s":"g","x":0.68,"d":0.09},{"p":7,"k":0,"s":"g","x":0.91,"d":0.33},{"p":7,"k":0,"s":"g","x":1.14,"d":0.33},{"p":7,"k":0,"s":"g","x":1.53,"d":0.155},{"p":7,"k":0,"s":"g","x":1.9,"d":0.03},{"p":7,"k":0,"s":"g","x":2.0,"d":0},{"p":7,"k":0,"s":"g","x":8.6,"d":0},

{"p":8,"k":3,"s":"b","x":0.24,"d":0},{"p":8,"k":3,"s":"b","x":2.15,"d":0},{"p":8,"k":3,"s":"b","x":2.4,"d":0.12},{"p":8,"k":3,"s":"b","x":2.79,"d":0.41},{"p":8,"k":3,"s":"b","x":3.12,"d":0.64},{"p":8,"k":3,"s":"b","x":3.48,"d":0.64},{"p":8,"k":3,"s":"b","x":4.05,"d":0.44},{"p":8,"k":3,"s":"b","x":4.7,"d":0.12},{"p":8,"k":3,"s":"b","x":5.0,"d":0.03},{"p":8,"k":3,"s":"b","x":5.2,"d":0},{"p":8,"k":3,"s":"b","x":8.7,"d":0},
{"p":8,"k":3,"s":"g","x":0.24,"d":0},{"p":8,"k":3,"s":"g","x":2.03,"d":0},{"p":8,"k":3,"s":"g","x":2.31,"d":0.07},{"p":8,"k":3,"s":"g","x":2.79,"d":0.36},{"p":8,"k":3,"s":"g","x":3.1,"d":0.51},{"p":8,"k":3,"s":"g","x":3.6,"d":0.51},{"p":8,"k":3,"s":"g","x":4.2,"d":0.35},{"p":8,"k":3,"s":"g","x":4.87,"d":0.085},{"p":8,"k":3,"s":"g","x":5.45,"d":0},{"p":8,"k":3,"s":"g","x":8.7,"d":0},
{"p":8,"k":2,"s":"b","x":0.24,"d":0},{"p":8,"k":2,"s":"b","x":1.42,"d":0},{"p":8,"k":2,"s":"b","x":1.65,"d":0.12},{"p":8,"k":2,"s":"b","x":1.92,"d":0.41},{"p":8,"k":2,"s":"b","x":2.15,"d":0.66},{"p":8,"k":2,"s":"b","x":2.36,"d":0.66},{"p":8,"k":2,"s":"b","x":2.68,"d":0.44},{"p":8,"k":2,"s":"b","x":3.12,"d":0.15},{"p":8,"k":2,"s":"b","x":3.48,"d":0.02},{"p":8,"k":2,"s":"b","x":3.6,"d":0},{"p":8,"k":2,"s":"b","x":8.7,"d":0},
{"p":8,"k":2,"s":"g","x":0.24,"d":0},{"p":8,"k":2,"s":"g","x":1.32,"d":0},{"p":8,"k":2,"s":"g","x":1.59,"d":0.085},{"p":8,"k":2,"s":"g","x":1.92,"d":0.38},{"p":8,"k":2,"s":"g","x":2.15,"d":0.52},{"p":8,"k":2,"s":"g","x":2.4,"d":0.52},{"p":8,"k":2,"s":"g","x":2.79,"d":0.35},{"p":8,"k":2,"s":"g","x":3.24,"d":0.12},{"p":8,"k":2,"s":"g","x":3.67,"d":0},{"p":8,"k":2,"s":"g","x":8.7,"d":0},
{"p":8,"k":1,"s":"b","x":0.24,"d":0},{"p":8,"k":1,"s":"b","x":0.95,"d":0},{"p":8,"k":1,"s":"b","x":1.1,"d":0.1},{"p":8,"k":1,"s":"b","x":1.27,"d":0.36},{"p":8,"k":1,"s":"b","x":1.42,"d":0.65},{"p":8,"k":1,"s":"b","x":1.59,"d":0.65},{"p":8,"k":1,"s":"b","x":1.85,"d":0.42},{"p":8,"k":1,"s":"b","x":2.15,"d":0.1},{"p":8,"k":1,"s":"b","x":2.31,"d":0},{"p":8,"k":1,"s":"b","x":8.7,"d":0},
{"p":8,"k":1,"s":"g","x":0.24,"d":0},{"p":8,"k":1,"s":"g","x":0.88,"d":0},{"p":8,"k":1,"s":"g","x":1.06,"d":0.085},{"p":8,"k":1,"s":"g","x":1.27,"d":0.33},{"p":8,"k":1,"s":"g","x":1.42,"d":0.51},{"p":8,"k":1,"s":"g","x":1.65,"d":0.51},{"p":8,"k":1,"s":"g","x":1.92,"d":0.33},{"p":8,"k":1,"s":"g","x":2.31,"d":0.065},{"p":8,"k":1,"s":"g","x":2.58,"d":0},{"p":8,"k":1,"s":"g","x":8.7,"d":0},
{"p":8,"k":0,"s":"b","x":0.24,"d":0},{"p":8,"k":0,"s":"b","x":0.68,"d":0},{"p":8,"k":0,"s":"b","x":0.79,"d":0.1},{"p":8,"k":0,"s":"b","x":0.88,"d":0.31},{"p":8,"k":0,"s":"b","x":0.95,"d":0.57},{"p":8,"k":0,"s":"b","x":1.08,"d":0.57},{"p":8,"k":0,"s":"b","x":1.23,"d":0.35},{"p":8,"k":0,"s":"b","x":1.37,"d":0.12},{"p":8,"k":0,"s":"b","x":1.53,"d":0},{"p":8,"k":0,"s":"b","x":8.7,"d":0},
{"p":8,"k":0,"s":"g","x":0.24,"d":0},{"p":8,"k":0,"s":"g","x":0.63,"d":0},{"p":8,"k":0,"s":"g","x":0.76,"d":0.085},{"p":8,"k":0,"s":"g","x":0.91,"d":0.35},{"p":8,"k":0,"s":"g","x":0.97,"d":0.46},{"p":8,"k":0,"s":"g","x":1.12,"d":0.46},{"p":8,"k":0,"s":"g","x":1.32,"d":0.25},{"p":8,"k":0,"s":"g","x":1.59,"d":0.05},{"p":8,"k":0,"s":"g","x":1.72,"d":0},{"p":8,"k":0,"s":"g","x":8.7,"d":0},

{"p":9,"k":3,"s":"b","x":0.235,"d":0},{"p":9,"k":3,"s":"b","x":2.23,"d":0},{"p":9,"k":3,"s":"b","x":2.49,"d":0.09},{"p":9,"k":3,"s":"b","x":2.79,"d":0.41},{"p":9,"k":3,"s":"b","x":3.12,"d":0.93},{"p":9,"k":3,"s":"b","x":3.42,"d":0.93},{"p":9,"k":3,"s":"b","x":3.76,"d":0.58},{"p":9,"k":3,"s":"b","x":4.2,"d":0.13},{"p":9,"k":3,"s":"b","x":4.52,"d":0.02},{"p":9,"k":3,"s":"b","x":4.7,"d":0},{"p":9,"k":3,"s":"b","x":8.5,"d":0},
{"p":9,"k":3,"s":"g","x":0.235,"d":0},{"p":9,"k":3,"s":"g","x":2.07,"d":0},{"p":9,"k":3,"s":"g","x":2.4,"d":0.056},{"p":9,"k":3,"s":"g","x":2.79,"d":0.41},{"p":9,"k":3,"s":"g","x":3.1,"d":0.72},{"p":9,"k":3,"s":"g","x":3.5,"d":0.72},{"p":9,"k":3,"s":"g","x":3.9,"d":0.41},{"p":9,"k":3,"s":"g","x":4.52,"d":0.09},{"p":9,"k":3,"s":"g","x":5.15,"d":0},{"p":9,"k":3,"s":"g","x":8.5,"d":0},
{"p":9,"k":2,"s":"b","x":0.235,"d":0},{"p":9,"k":2,"s":"b","x":1.48,"d":0},{"p":9,"k":2,"s":"b","x":1.65,"d":0.08},{"p":9,"k":2,"s":"b","x":1.85,"d":0.44},{"p":9,"k":2,"s":"b","x":2.1,"d":0.94},{"p":9,"k":2,"s":"b","x":2.27,"d":0.94},{"p":9,"k":2,"s":"b","x":2.49,"d":0.65},{"p":9,"k":2,"s":"b","x":2.79,"d":0.22},{"p":9,"k":2,"s":"b","x":3.12,"d":0.05},{"p":9,"k":2,"s":"b","x":3.25,"d":0},{"p":9,"k":2,"s":"b","x":8.5,"d":0},
{"p":9,"k":2,"s":"g","x":0.235,"d":0},{"p":9,"k":2,"s":"g","x":1.37,"d":0},{"p":9,"k":2,"s":"g","x":1.59,"d":0.08},{"p":9,"k":2,"s":"g","x":1.85,"d":0.44},{"p":9,"k":2,"s":"g","x":2.1,"d":0.77},{"p":9,"k":2,"s":"g","x":2.3,"d":0.77},{"p":9,"k":2,"s":"g","x":2.59,"d":0.44},{"p":9,"k":2,"s":"g","x":3.0,"d":0.08},{"p":9,"k":2,"s":"g","x":3.46,"d":0},{"p":9,"k":2,"s":"g","x":8.5,"d":0},
{"p":9,"k":1,"s":"b","x":0.235,"d":0},{"p":9,"k":1,"s":"b","x":0.98,"d":0},{"p":9,"k":1,"s":"b","x":1.1,"d":0.08},{"p":9,"k":1,"s":"b","x":1.27,"d":0.47},{"p":9,"k":1,"s":"b","x":1.42,"d":0.91},{"p":9,"k":1,"s":"b","x":1.56,"d":0.91},{"p":9,"k":1,"s":"b","x":1.72,"d":0.61},{"p":9,"k":1,"s":"b","x":1.92,"d":0.12},{"p":9,"k":1,"s":"b","x":2.07,"d":0},{"p":9,"k":1,"s":"b","x":8.5,"d":0},
{"p":9,"k":1,"s":"g","x":0.235,"d":0},{"p":9,"k":1,"s":"g","x":0.89,"d":0},{"p":9,"k":1,"s":"g","x":1.06,"d":0.08},{"p":9,"k":1,"s":"g","x":1.27,"d":0.47},{"p":9,"k":1,"s":"g","x":1.42,"d":0.74},{"p":9,"k":1,"s":"g","x":1.6,"d":0.74},{"p":9,"k":1,"s":"g","x":1.78,"d":0.4},{"p":9,"k":1,"s":"g","x":2.07,"d":0.08},{"p":9,"k":1,"s":"g","x":2.49,"d":0},{"p":9,"k":1,"s":"g","x":8.5,"d":0},
{"p":9,"k":0,"s":"b","x":0.235,"d":0},{"p":9,"k":0,"s":"b","x":0.73,"d":0},{"p":9,"k":0,"s":"b","x":0.8,"d":0.1},{"p":9,"k":0,"s":"b","x":0.88,"d":0.46},{"p":9,"k":0,"s":"b","x":0.96,"d":0.86},{"p":9,"k":0,"s":"b","x":1.02,"d":0.86},{"p":9,"k":0,"s":"b","x":1.1,"d":0.63},{"p":9,"k":0,"s":"b","x":1.2,"d":0.25},{"p":9,"k":0,"s":"b","x":1.3,"d":0.035},{"p":9,"k":0,"s":"b","x":1.35,"d":0},{"p":9,"k":0,"s":"b","x":8.5,"d":0},
{"p":9,"k":0,"s":"g","x":0.235,"d":0},{"p":9,"k":0,"s":"g","x":0.69,"d":0},{"p":9,"k":0,"s":"g","x":0.77,"d":0.1},{"p":9,"k":0,"s":"g","x":0.88,"d":0.42},{"p":9,"k":0,"s":"g","x":0.96,"d":0.68},{"p":9,"k":0,"s":"g","x":1.04,"d":0.68},{"p":9,"k":0,"s":"g","x":1.14,"d":0.46},{"p":9,"k":0,"s":"g","x":1.27,"d":0.14},{"p":9,"k":0,"s":"g","x":1.42,"d":0},{"p":9,"k":0,"s":"g","x":8.5,"d":0}
]},
"transform": [{"calculate": "datum.d + datum.k", "as": "y"}],
"columns": 3,
"spacing": {"row": 97, "column": 110.5},
"bounds": "flush",
"resolve": {"scale": {"x": "independent", "y": "independent"}},
"concat": [
{"title": {"text": "Cases: 100\u00a0 Exposure Prevalence: 2%", "offset": -20}, "width": 350, "height": 187, "transform": [{"filter": "datum.p == 1"}],
 "encoding": {"x": {"field": "x", "type": "quantitative", "scale": {"type": "log", "domain": [0.205, 9.8], "nice": false}, "axis": {"values": [0.25,0.5,1,2,4,8], "format": "~g", "title": "or"}},
  "y": {"field": "y", "type": "quantitative", "scale": {"zero": true, "nice": false}, "axis": {"values": [0,1,2,3], "labelExpr": "['1','1.5','2.25','3.375'][datum.value]", "labelOffset": {"condition": [{"test": "datum.value == 0", "value": 3}, {"test": "datum.value == 1", "value": -6}, {"test": "datum.value == 2", "value": -7}], "value": -3}, "title": "O\u0332R\u0332", "titleX": -147, "titleY": -18, "titleAngle": 0, "titleAlign": "left", "titleBaseline": "alphabetic", "titleFont": "DejaVu Sans", "titleFontWeight": "bold", "titleFontSize": 20.5, "titleColor": "black"}}},
 "layer": [
  {"transform": [{"aggregate": [{"op": "min", "field": "x", "as": "x"}, {"op": "max", "field": "x", "as": "xe"}, {"op": "min", "field": "k", "as": "y"}], "groupby": ["k"]}], "mark": {"type": "rule", "color": "black", "strokeWidth": 2}, "encoding": {"x2": {"field": "xe"}}},
  {"transform": [{"filter": "datum.s == 'g'"}], "mark": {"type": "line", "color": "#808080", "strokeWidth": 2, "interpolate": "monotone"}, "encoding": {"detail": {"field": "k"}}},
  {"transform": [{"filter": "datum.s == 'b'"}], "mark": {"type": "line", "color": "black", "strokeWidth": 2, "interpolate": "monotone"}, "encoding": {"detail": {"field": "k"}}},
  {"transform": [{"joinaggregate": [{"op": "max", "field": "d", "as": "dm"}], "groupby": ["k", "s"]}, {"filter": "datum.d == datum.dm"}, {"aggregate": [{"op": "mean", "field": "x", "as": "x"}, {"op": "max", "field": "y", "as": "y"}], "groupby": ["k", "s"]}], "mark": {"type": "tick", "orient": "horizontal", "size": 10, "thickness": 3.5, "opacity": 1}, "encoding": {"color": {"field": "s", "type": "nominal", "scale": {"domain": ["b", "g"], "range": ["black", "#808080"]}, "legend": null}}}
 ]},
{"title": "Cases: 200\u00a0 Exposure Prevalence: 2%", "width": 350, "height": 187, "transform": [{"filter": "datum.p == 2"}],
 "encoding": {"x": {"field": "x", "type": "quantitative", "scale": {"type": "log", "domain": [0.205, 9.8], "nice": false}, "axis": {"values": [0.25,0.5,1,2,4,8], "format": "~g", "title": "or"}},
  "y": {"field": "y", "type": "quantitative", "scale": {"zero": true, "nice": false}, "axis": null}},
 "layer": [
  {"transform": [{"aggregate": [{"op": "min", "field": "x", "as": "x"}, {"op": "max", "field": "x", "as": "xe"}, {"op": "min", "field": "k", "as": "y"}], "groupby": ["k"]}], "mark": {"type": "rule", "color": "black", "strokeWidth": 2}, "encoding": {"x2": {"field": "xe"}}},
  {"transform": [{"filter": "datum.s == 'g'"}], "mark": {"type": "line", "color": "#808080", "strokeWidth": 2, "interpolate": "monotone"}, "encoding": {"detail": {"field": "k"}}},
  {"transform": [{"filter": "datum.s == 'b'"}], "mark": {"type": "line", "color": "black", "strokeWidth": 2, "interpolate": "monotone"}, "encoding": {"detail": {"field": "k"}}},
  {"transform": [{"joinaggregate": [{"op": "max", "field": "d", "as": "dm"}], "groupby": ["k", "s"]}, {"filter": "datum.d == datum.dm"}, {"aggregate": [{"op": "mean", "field": "x", "as": "x"}, {"op": "max", "field": "y", "as": "y"}], "groupby": ["k", "s"]}], "mark": {"type": "tick", "orient": "horizontal", "size": 10, "thickness": 3.5, "opacity": 1}, "encoding": {"color": {"field": "s", "type": "nominal", "scale": {"domain": ["b", "g"], "range": ["black", "#808080"]}, "legend": null}}}
 ]},
{"title": "Cases: 400\u00a0 Exposure Prevalence: 2%", "width": 350, "height": 187, "transform": [{"filter": "datum.p == 3"}],
 "encoding": {"x": {"field": "x", "type": "quantitative", "scale": {"type": "log", "domain": [0.205, 9.8], "nice": false}, "axis": {"values": [0.25,0.5,1,2,4,8], "format": "~g", "title": "or"}},
  "y": {"field": "y", "type": "quantitative", "scale": {"zero": true, "nice": false}, "axis": null}},
 "layer": [
  {"transform": [{"aggregate": [{"op": "min", "field": "x", "as": "x"}, {"op": "max", "field": "x", "as": "xe"}, {"op": "min", "field": "k", "as": "y"}], "groupby": ["k"]}], "mark": {"type": "rule", "color": "black", "strokeWidth": 2}, "encoding": {"x2": {"field": "xe"}}},
  {"transform": [{"filter": "datum.s == 'g'"}], "mark": {"type": "line", "color": "#808080", "strokeWidth": 2, "interpolate": "monotone"}, "encoding": {"detail": {"field": "k"}}},
  {"transform": [{"filter": "datum.s == 'b'"}], "mark": {"type": "line", "color": "black", "strokeWidth": 2, "interpolate": "monotone"}, "encoding": {"detail": {"field": "k"}}},
  {"transform": [{"joinaggregate": [{"op": "max", "field": "d", "as": "dm"}], "groupby": ["k", "s"]}, {"filter": "datum.d == datum.dm"}, {"aggregate": [{"op": "mean", "field": "x", "as": "x"}, {"op": "max", "field": "y", "as": "y"}], "groupby": ["k", "s"]}], "mark": {"type": "tick", "orient": "horizontal", "size": 10, "thickness": 3.5, "opacity": 1}, "encoding": {"color": {"field": "s", "type": "nominal", "scale": {"domain": ["b", "g"], "range": ["black", "#808080"]}, "legend": null}}}
 ]},
{"title": "Cases: 100\u00a0 Exposure Prevalence: 8%", "width": 350, "height": 187, "transform": [{"filter": "datum.p == 4"}],
 "encoding": {"x": {"field": "x", "type": "quantitative", "scale": {"type": "log", "domain": [0.205, 9.8], "nice": false}, "axis": {"values": [0.25,0.5,1,2,4,8], "format": "~g", "title": "or"}},
  "y": {"field": "y", "type": "quantitative", "scale": {"zero": true, "nice": false}, "axis": {"values": [0,1,2,3], "labelExpr": "['1','1.5','2.25','3.375'][datum.value]", "labelOffset": {"condition": [{"test": "datum.value == 0", "value": 3}, {"test": "datum.value == 1", "value": -6}, {"test": "datum.value == 2", "value": -7}], "value": -3}, "title": null}}},
 "layer": [
  {"transform": [{"aggregate": [{"op": "min", "field": "x", "as": "x"}, {"op": "max", "field": "x", "as": "xe"}, {"op": "min", "field": "k", "as": "y"}], "groupby": ["k"]}], "mark": {"type": "rule", "color": "black", "strokeWidth": 2}, "encoding": {"x2": {"field": "xe"}}},
  {"transform": [{"filter": "datum.s == 'g'"}], "mark": {"type": "line", "color": "#808080", "strokeWidth": 2, "interpolate": "monotone"}, "encoding": {"detail": {"field": "k"}}},
  {"transform": [{"filter": "datum.s == 'b'"}], "mark": {"type": "line", "color": "black", "strokeWidth": 2, "interpolate": "monotone"}, "encoding": {"detail": {"field": "k"}}},
  {"transform": [{"joinaggregate": [{"op": "max", "field": "d", "as": "dm"}], "groupby": ["k", "s"]}, {"filter": "datum.d == datum.dm"}, {"aggregate": [{"op": "mean", "field": "x", "as": "x"}, {"op": "max", "field": "y", "as": "y"}], "groupby": ["k", "s"]}], "mark": {"type": "tick", "orient": "horizontal", "size": 10, "thickness": 3.5, "opacity": 1}, "encoding": {"color": {"field": "s", "type": "nominal", "scale": {"domain": ["b", "g"], "range": ["black", "#808080"]}, "legend": null}}}
 ]},
{"title": "Cases: 200\u00a0 Exposure Prevalence: 8%", "width": 350, "height": 187, "transform": [{"filter": "datum.p == 5"}],
 "encoding": {"x": {"field": "x", "type": "quantitative", "scale": {"type": "log", "domain": [0.205, 9.8], "nice": false}, "axis": {"values": [0.25,0.5,1,2,4,8], "format": "~g", "title": "or"}},
  "y": {"field": "y", "type": "quantitative", "scale": {"zero": true, "nice": false}, "axis": null}},
 "layer": [
  {"transform": [{"aggregate": [{"op": "min", "field": "x", "as": "x"}, {"op": "max", "field": "x", "as": "xe"}, {"op": "min", "field": "k", "as": "y"}], "groupby": ["k"]}], "mark": {"type": "rule", "color": "black", "strokeWidth": 2}, "encoding": {"x2": {"field": "xe"}}},
  {"transform": [{"filter": "datum.s == 'g'"}], "mark": {"type": "line", "color": "#808080", "strokeWidth": 2, "interpolate": "monotone"}, "encoding": {"detail": {"field": "k"}}},
  {"transform": [{"filter": "datum.s == 'b'"}], "mark": {"type": "line", "color": "black", "strokeWidth": 2, "interpolate": "monotone"}, "encoding": {"detail": {"field": "k"}}},
  {"transform": [{"joinaggregate": [{"op": "max", "field": "d", "as": "dm"}], "groupby": ["k", "s"]}, {"filter": "datum.d == datum.dm"}, {"aggregate": [{"op": "mean", "field": "x", "as": "x"}, {"op": "max", "field": "y", "as": "y"}], "groupby": ["k", "s"]}], "mark": {"type": "tick", "orient": "horizontal", "size": 10, "thickness": 3.5, "opacity": 1}, "encoding": {"color": {"field": "s", "type": "nominal", "scale": {"domain": ["b", "g"], "range": ["black", "#808080"]}, "legend": null}}}
 ]},
{"title": "Cases: 400\u00a0 Exposure Prevalence: 8%", "width": 350, "height": 187, "transform": [{"filter": "datum.p == 6"}],
 "encoding": {"x": {"field": "x", "type": "quantitative", "scale": {"type": "log", "domain": [0.205, 9.8], "nice": false}, "axis": {"values": [0.25,0.5,1,2,4,8], "format": "~g", "title": "or"}},
  "y": {"field": "y", "type": "quantitative", "scale": {"zero": true, "nice": false}, "axis": null}},
 "layer": [
  {"transform": [{"aggregate": [{"op": "min", "field": "x", "as": "x"}, {"op": "max", "field": "x", "as": "xe"}, {"op": "min", "field": "k", "as": "y"}], "groupby": ["k"]}], "mark": {"type": "rule", "color": "black", "strokeWidth": 2}, "encoding": {"x2": {"field": "xe"}}},
  {"transform": [{"filter": "datum.s == 'g'"}], "mark": {"type": "line", "color": "#808080", "strokeWidth": 2, "interpolate": "monotone"}, "encoding": {"detail": {"field": "k"}}},
  {"transform": [{"filter": "datum.s == 'b'"}], "mark": {"type": "line", "color": "black", "strokeWidth": 2, "interpolate": "monotone"}, "encoding": {"detail": {"field": "k"}}},
  {"transform": [{"joinaggregate": [{"op": "max", "field": "d", "as": "dm"}], "groupby": ["k", "s"]}, {"filter": "datum.d == datum.dm"}, {"aggregate": [{"op": "mean", "field": "x", "as": "x"}, {"op": "max", "field": "y", "as": "y"}], "groupby": ["k", "s"]}], "mark": {"type": "tick", "orient": "horizontal", "size": 10, "thickness": 3.5, "opacity": 1}, "encoding": {"color": {"field": "s", "type": "nominal", "scale": {"domain": ["b", "g"], "range": ["black", "#808080"]}, "legend": null}}}
 ]},
{"title": "Cases: 100\u00a0 Exposure Prevalence: 32%", "width": 350, "height": 187, "transform": [{"filter": "datum.p == 7"}],
 "encoding": {"x": {"field": "x", "type": "quantitative", "scale": {"type": "log", "domain": [0.205, 9.8], "nice": false}, "axis": {"values": [0.25,0.5,1,2,4,8], "format": "~g", "title": "or"}},
  "y": {"field": "y", "type": "quantitative", "scale": {"zero": true, "nice": false}, "axis": {"values": [0,1,2,3], "labelExpr": "['1','1.5','2.25','3.375'][datum.value]", "labelOffset": {"condition": [{"test": "datum.value == 0", "value": 3}, {"test": "datum.value == 1", "value": -6}, {"test": "datum.value == 2", "value": -7}], "value": -3}, "title": null}}},
 "layer": [
  {"transform": [{"aggregate": [{"op": "min", "field": "x", "as": "x"}, {"op": "max", "field": "x", "as": "xe"}, {"op": "min", "field": "k", "as": "y"}], "groupby": ["k"]}], "mark": {"type": "rule", "color": "black", "strokeWidth": 2}, "encoding": {"x2": {"field": "xe"}}},
  {"transform": [{"filter": "datum.s == 'g'"}], "mark": {"type": "line", "color": "#808080", "strokeWidth": 2, "interpolate": "monotone"}, "encoding": {"detail": {"field": "k"}}},
  {"transform": [{"filter": "datum.s == 'b'"}], "mark": {"type": "line", "color": "black", "strokeWidth": 2, "interpolate": "monotone"}, "encoding": {"detail": {"field": "k"}}},
  {"transform": [{"joinaggregate": [{"op": "max", "field": "d", "as": "dm"}], "groupby": ["k", "s"]}, {"filter": "datum.d == datum.dm"}, {"aggregate": [{"op": "mean", "field": "x", "as": "x"}, {"op": "max", "field": "y", "as": "y"}], "groupby": ["k", "s"]}], "mark": {"type": "tick", "orient": "horizontal", "size": 10, "thickness": 3.5, "opacity": 1}, "encoding": {"color": {"field": "s", "type": "nominal", "scale": {"domain": ["b", "g"], "range": ["black", "#808080"]}, "legend": null}}}
 ]},
{"title": "Cases: 200\u00a0 Exposure Prevalence: 32%", "width": 350, "height": 187, "transform": [{"filter": "datum.p == 8"}],
 "encoding": {"x": {"field": "x", "type": "quantitative", "scale": {"type": "log", "domain": [0.205, 9.8], "nice": false}, "axis": {"values": [0.25,0.5,1,2,4,8], "format": "~g", "title": "or"}},
  "y": {"field": "y", "type": "quantitative", "scale": {"zero": true, "nice": false}, "axis": null}},
 "layer": [
  {"transform": [{"aggregate": [{"op": "min", "field": "x", "as": "x"}, {"op": "max", "field": "x", "as": "xe"}, {"op": "min", "field": "k", "as": "y"}], "groupby": ["k"]}], "mark": {"type": "rule", "color": "black", "strokeWidth": 2}, "encoding": {"x2": {"field": "xe"}}},
  {"transform": [{"filter": "datum.s == 'g'"}], "mark": {"type": "line", "color": "#808080", "strokeWidth": 2, "interpolate": "monotone"}, "encoding": {"detail": {"field": "k"}}},
  {"transform": [{"filter": "datum.s == 'b'"}], "mark": {"type": "line", "color": "black", "strokeWidth": 2, "interpolate": "monotone"}, "encoding": {"detail": {"field": "k"}}},
  {"transform": [{"joinaggregate": [{"op": "max", "field": "d", "as": "dm"}], "groupby": ["k", "s"]}, {"filter": "datum.d == datum.dm"}, {"aggregate": [{"op": "mean", "field": "x", "as": "x"}, {"op": "max", "field": "y", "as": "y"}], "groupby": ["k", "s"]}], "mark": {"type": "tick", "orient": "horizontal", "size": 10, "thickness": 3.5, "opacity": 1}, "encoding": {"color": {"field": "s", "type": "nominal", "scale": {"domain": ["b", "g"], "range": ["black", "#808080"]}, "legend": null}}}
 ]},
{"title": "Cases: 400\u00a0 Exposure Prevalence: 32%", "width": 350, "height": 187, "transform": [{"filter": "datum.p == 9"}],
 "encoding": {"x": {"field": "x", "type": "quantitative", "scale": {"type": "log", "domain": [0.205, 9.8], "nice": false}, "axis": {"values": [0.25,0.5,1,2,4,8], "format": "~g", "title": "or"}},
  "y": {"field": "y", "type": "quantitative", "scale": {"zero": true, "nice": false}, "axis": null}},
 "layer": [
  {"transform": [{"aggregate": [{"op": "min", "field": "x", "as": "x"}, {"op": "max", "field": "x", "as": "xe"}, {"op": "min", "field": "k", "as": "y"}], "groupby": ["k"]}], "mark": {"type": "rule", "color": "black", "strokeWidth": 2}, "encoding": {"x2": {"field": "xe"}}},
  {"transform": [{"filter": "datum.s == 'g'"}], "mark": {"type": "line", "color": "#808080", "strokeWidth": 2, "interpolate": "monotone"}, "encoding": {"detail": {"field": "k"}}},
  {"transform": [{"filter": "datum.s == 'b'"}], "mark": {"type": "line", "color": "black", "strokeWidth": 2, "interpolate": "monotone"}, "encoding": {"detail": {"field": "k"}}},
  {"transform": [{"joinaggregate": [{"op": "max", "field": "d", "as": "dm"}], "groupby": ["k", "s"]}, {"filter": "datum.d == datum.dm"}, {"aggregate": [{"op": "mean", "field": "x", "as": "x"}, {"op": "max", "field": "y", "as": "y"}], "groupby": ["k", "s"]}], "mark": {"type": "tick", "orient": "horizontal", "size": 10, "thickness": 3.5, "opacity": 1}, "encoding": {"color": {"field": "s", "type": "nominal", "scale": {"domain": ["b", "g"], "range": ["black", "#808080"]}, "legend": null}}}
 ]}
],
"config": {
 "view": {"stroke": null},
 "title": {"font": "Liberation Mono", "fontSize": 20, "fontWeight": "normal", "color": "black", "anchor": "middle", "frame": "group", "baseline": "bottom", "offset": 10},
 "axis": {"grid": false},
 "axisX": {"labelFont": "Liberation Mono", "labelFontSize": 20, "labelColor": "black", "labelPadding": 11, "tickSize": 3, "tickColor": "black", "domainColor": "black", "domainWidth": 2, "labelFlush": false, "labelOverlap": false, "titleFont": "Liberation Mono", "titleFontSize": 20, "titleFontWeight": "normal", "titleColor": "black", "titleX": 357, "titleY": 8, "titleAlign": "left", "titleBaseline": "alphabetic", "titleAngle": 0},
 "axisY": {"domain": false, "ticks": false, "tickSize": 0, "labelAlign": "left", "labelBaseline": "alphabetic", "labelPadding": 147, "labelFont": "DejaVu Sans", "labelFontWeight": "bold", "labelFontSize": 20.5, "labelColor": "black"}
}
}
